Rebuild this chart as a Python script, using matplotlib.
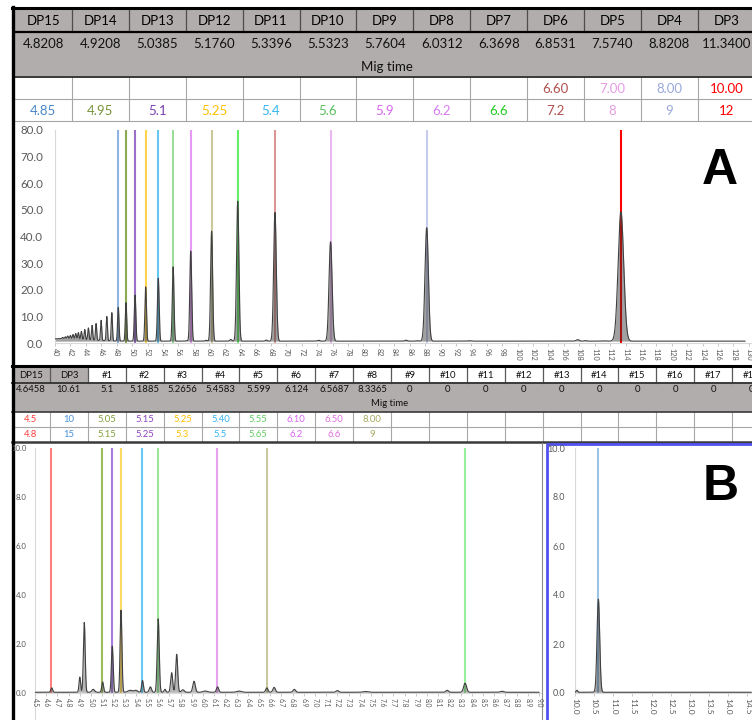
import numpy as np
import matplotlib.pyplot as plt

plt.rcParams['font.family'] = ['Lato', 'DejaVu Sans']

# ---------------- panel A : table ----------------
a_names = ["DP15", "DP14", "DP13", "DP12", "DP11", "DP10", "DP9", "DP8", "DP7",
           "DP6", "DP5", "DP4", "DP3"]
a_mig = [4.8208, 4.9208, 5.0385, 5.1760, 5.3396, 5.5323, 5.7604, 6.0312, 6.3698,
         6.8531, 7.5740, 8.8208, 11.3400]
a_win_start = ["", "", "", "", "", "", "", "", "", "6.60", "7.00", "8.00", "10.00"]
a_win_end = ["4.85", "4.95", "5.1", "5.25", "5.4", "5.6", "5.9", "6.2", "6.6",
             "7.2", "8", "9", "12"]
a_text_colors = ["#4a86c8", "#77933c", "#7b3fb0", "#ffc000", "#33b5f0", "#5cc05c",
                 "#d966f0", "#d97df0", "#22cc22", "#b0504d", "#e39ee3", "#9aa8dc", "#ff0000"]
a_line_colors = ["#8db4e2", "#8baa52", "#9b6fc8", "#ffd24d", "#66c8f0", "#99dd99",
                 "#e699f5", "#c8c89b", "#66ee66", "#d99694", "#e8b8ee", "#c5ccee", "#ff0000"]

# panel A trace : peaks (time, height, width)
a_dp_height = [12.6, 14.4, 17.3, 20.4, 23.6, 27.9, 33.8, 41.3, 52.6, 48.3, 37.3, 42.6, 48.6]
a_dp_width = [0.009, 0.009, 0.010, 0.010, 0.011, 0.011, 0.012, 0.013, 0.015,
              0.017, 0.020, 0.022, 0.036]
a_ladder_time = [4.100, 4.134, 4.165, 4.199, 4.234, 4.269, 4.303, 4.342, 4.386,
                 4.433, 4.481, 4.533, 4.598, 4.672, 4.737]
a_ladder_height = [0.5, 0.75, 1.05, 1.3, 1.7, 2.1, 2.5, 3.0, 3.8, 4.5, 5.5, 6.3, 7.6, 9.1, 10.6]
a_minor_time = [4.10, 5.71, 5.96, 6.28, 6.74, 7.42, 8.55, 8.70, 9.37, 10.78, 10.88, 11.12]
a_minor_height = [0.9, 0.2, 0.3, 0.6, 0.4, 0.3, 0.35, 0.15, 0.15, 0.55, 0.2, 0.1]
a_minor_width = [0.30, 0.010, 0.012, 0.012, 0.012, 0.015, 0.015, 0.015, 0.02, 0.02, 0.015, 0.02]
a_base = 0.7

# ---------------- panel B : table ----------------
b_names = ["DP15", "DP3"] + ["#%d" % i for i in range(1, 19)]
b_mig = [4.6458, 10.61, 5.1, 5.1885, 5.2656, 5.4583, 5.599, 6.124, 6.5687, 8.3365,
         0, 0, 0, 0, 0, 0, 0, 0, 0, 0]
b_win_start = ["4.5", "10", "5.05", "5.15", "5.25", "5.40", "5.55", "6.10", "6.50", "8.00"] + [""] * 10
b_win_end = ["4.8", "15", "5.15", "5.25", "5.3", "5.5", "5.65", "6.2", "6.6", "9"] + [""] * 10
b_text_colors = ["#ff3b3b", "#4a90d9", "#7fa03c", "#8e44c0", "#ffc000", "#33b5f0",
                 "#66cc66", "#d966f0", "#e070e0", "#a8a860"]
b_line_colors = ["#ff7f7f", "#9dc3e6", "#9bbb59", "#a77ddb", "#ffd966", "#66ccf5",
                 "#99e699", "#e8a0f0", "#c8c8a0", "#99ee99"]

b_peak_time = [4.649, 4.90, 4.94, 5.02, 5.104, 5.19, 5.268, 5.35, 5.40, 5.46, 5.53, 5.60,
               5.66, 5.72, 5.765, 5.82, 5.92, 6.02, 6.13, 6.32, 6.57, 6.635, 6.815,
               7.20, 7.45, 8.18, 8.34, 8.67, 10.05, 10.61]
b_peak_height = [0.18, 0.62, 2.85, 0.12, 0.42, 1.88, 3.35, 0.08, 0.08, 0.48, 0.22, 3.0,
                 0.12, 0.8, 1.55, 0.1, 0.45, 0.05, 0.22, 0.05, 0.18, 0.2, 0.12,
                 0.07, 0.03, 0.08, 0.37, 0.04, 0.08, 3.8]
b_peak_width = [0.008, 0.007, 0.008, 0.012, 0.008, 0.008, 0.008, 0.02, 0.015, 0.008, 0.01, 0.009,
                0.008, 0.009, 0.009, 0.012, 0.011, 0.02, 0.01, 0.02, 0.01, 0.011, 0.011,
                0.012, 0.02, 0.012, 0.013, 0.015, 0.02, 0.035]
b_base = 0.03

W, H = 752, 720
GRAY_BG = "#b1adac"
TICK_GREY = "#595959"


def trace(t, base, times, heights, widths):
    y = np.full_like(t, base)
    for c, h, s in zip(times, heights, widths):
        y += h * np.exp(-0.5 * ((t - c) / s) ** 2)
    return y


def px_axes(x0, y0, x1, y1):
    return fig.add_axes([x0 / W, 1 - y1 / H, (x1 - x0) / W, (y1 - y0) / H])


def style_chart(ax, ylabel_pad, yfont, xfont):
    for side in ["top", "right"]:
        ax.spines[side].set_visible(False)
    ax.spines["left"].set_color("#d9d9d9")
    ax.spines["bottom"].set_color("#d9d9d9")
    ax.tick_params(axis="y", length=0, pad=ylabel_pad, labelsize=yfont, labelcolor=TICK_GREY)
    ax.tick_params(axis="x", length=2, width=0.6, color="#bfbfbf", pad=1.5,
                   labelsize=xfont, labelcolor=TICK_GREY, labelrotation=-90)
    ax.set_facecolor("none")


fig = plt.figure(figsize=(W / 100, H / 100), dpi=100)
fig.set_facecolor("white")
canvas = fig.add_axes([0, 0, 1, 1])
canvas.set_xlim(0, W)
canvas.set_ylim(H, 0)
canvas.axis("off")

# ---------- table A ----------
a_left = [15 + 56.9 * i for i in range(len(a_names) + 1)]
canvas.fill_between([15, W], 10, 77, color=GRAY_BG, lw=0)
for x in a_left[1:]:
    canvas.plot([x, x], [9, 32], color="#4d4d4d", lw=0.9)
    canvas.plot([x, x], [77, 121], color="#a6a6a6", lw=0.8)
canvas.plot([15, W], [32, 32], color="black", lw=1.6)
canvas.plot([15, W], [77, 77], color="#3a3a3a", lw=1.4)
canvas.plot([15, W], [99, 99], color="#a6a6a6", lw=0.8)
canvas.plot([15, W], [121, 121], color="#a6a6a6", lw=0.8)
for i, name in enumerate(a_names):
    cx = (a_left[i] + a_left[i + 1]) / 2
    canvas.text(cx, 21, name, ha="center", va="center", fontsize=9.5, color="black")
    canvas.text(cx, 44, "%.4f" % a_mig[i], ha="center", va="center", fontsize=9.5, color="#111111")
    canvas.text(cx, 89, a_win_start[i], ha="center", va="center", fontsize=9.5, color=a_text_colors[i])
    canvas.text(cx, 111, a_win_end[i], ha="center", va="center", fontsize=9.5, color=a_text_colors[i])
canvas.text(387, 67, "Mig time", ha="center", va="center", fontsize=9.5, color="#111111")

# ---------- table B ----------
b_left = [12 + 37.9 * i for i in range(len(b_names) + 1)]
canvas.fill_between([12, b_left[2]], 367, 383, color=GRAY_BG, lw=0)
canvas.fill_between([12, W], 383, 412, color=GRAY_BG, lw=0)
for x in b_left[1:]:
    canvas.plot([x, x], [366, 383], color="#595959", lw=0.9)
    canvas.plot([x, x], [412, 441], color="#a6a6a6", lw=0.8)
canvas.plot([12, W], [383, 383], color="#3a3a3a", lw=1.4)
canvas.plot([12, W], [412, 412], color="#3a3a3a", lw=1.2)
canvas.plot([12, W], [427, 427], color="#a6a6a6", lw=0.8)
canvas.plot([12, W], [442, 442], color="#3a3a3a", lw=1.8)
for i, name in enumerate(b_names):
    cx = (b_left[i] + b_left[i + 1]) / 2
    canvas.text(cx, 375, name, ha="center", va="center", fontsize=6.8, color="#111111")
    canvas.text(cx, 390, "%g" % b_mig[i], ha="center", va="center", fontsize=6.8, color="#111111")
    if b_win_start[i]:
        canvas.text(cx, 419.5, b_win_start[i], ha="center", va="center", fontsize=6.8, color=b_text_colors[i])
        canvas.text(cx, 434.5, b_win_end[i], ha="center", va="center", fontsize=6.8, color=b_text_colors[i])
canvas.text(390, 404, "Mig time", ha="center", va="center", fontsize=6.8, color="#111111")

# outer borders
canvas.plot([12, W], [8, 8], color="black", lw=2.2)
canvas.plot([13, 13], [7, H], color="black", lw=2.4)
canvas.plot([12, W], [365.5, 365.5], color="black", lw=2.2)

# ---------- chart A ----------
axA = px_axes(55, 130, W, 343)
tA = np.linspace(4.0, 12.95, 9000)
yA = trace(tA, a_base,
           a_mig + a_ladder_time + a_minor_time,
           a_dp_height + a_ladder_height + a_minor_height,
           a_dp_width + [0.008] * len(a_ladder_time) + a_minor_width)
axA.vlines(a_mig, 0, 80, colors=a_line_colors, lw=1.5, zorder=1)
axA.fill_between(tA, a_base, yA, color="#303030", alpha=0.45, lw=0, zorder=2)
axA.plot(tA, yA, color="#404040", lw=0.8, zorder=3)
axA.set_xlim(4.0, 4.0 + 697 / 77.1)
axA.set_ylim(0, 80)
a_ticks = np.arange(40, 131, 2) / 10
axA.set_xticks(a_ticks)
axA.set_xticklabels(["%d" % round(v * 10) for v in a_ticks])
axA.set_yticks(np.arange(0, 81, 10))
axA.set_yticklabels(["%.1f" % v for v in np.arange(0, 81, 10)])
style_chart(axA, 8.5, 8.3, 5.2)
fig.text(720 / W, 1 - 171 / H, "A", ha="center", va="center", fontsize=36,
         fontweight="bold", family="Liberation Sans")

# ---------- chart B (left) ----------
axB = px_axes(35, 448, 541, 693)
tB = np.linspace(4.5, 9.0, 6000)
yB = trace(tB, b_base, b_peak_time, b_peak_height, b_peak_width)
left_idx = [i for i, v in enumerate(b_mig) if 4.5 < v < 9.0]
axB.vlines([b_mig[i] for i in left_idx], 0, 10,
           colors=[b_line_colors[i] for i in left_idx], lw=1.5, zorder=1)
axB.fill_between(tB, b_base, yB, color="#303030", alpha=0.35, lw=0, zorder=2)
axB.plot(tB, yB, color="#404040", lw=0.8, zorder=3)
axB.set_xlim(4.5, 4.5 + 506 / 112)
axB.set_ylim(0, 10)
b_ticks = np.arange(45, 91, 1) / 10
axB.set_xticks(b_ticks)
axB.set_xticklabels(["%.1f" % v for v in b_ticks])
axB.set_yticks(np.arange(0, 11, 2))
axB.set_yticklabels(["%.1f" % v for v in np.arange(0, 11, 2)])
style_chart(axB, 5.8, 5.6, 4.8)
canvas.plot([35, 35], [693, H], color="#d9d9d9", lw=0.8)

# ---------- chart B (right) ----------
axC = px_axes(575, 448, W, 693)
tC = np.linspace(10.0, 14.6, 4000)
yC = trace(tC, b_base, b_peak_time, b_peak_height, b_peak_width)
right_idx = [i for i, v in enumerate(b_mig) if v >= 10]
axC.vlines([b_mig[i] for i in right_idx], 0, 10,
           colors=[b_line_colors[i] for i in right_idx], lw=1.5, zorder=1)
axC.fill_between(tC, b_base, yC, color="#303030", alpha=0.45, lw=0, zorder=2)
axC.plot(tC, yC, color="#404040", lw=0.8, zorder=3)
axC.set_xlim(10.0, 10.0 + 177 / 38.3)
axC.set_ylim(0, 10)
c_ticks = np.arange(100, 146, 5) / 10
axC.set_xticks(c_ticks)
axC.set_xticklabels(["%.1f" % v for v in c_ticks])
axC.set_yticks(np.arange(0, 11, 2))
axC.set_yticklabels(["%.1f" % v for v in np.arange(0, 11, 2)])
style_chart(axC, 7.0, 6.5, 6.0)
canvas.plot([542, 542], [443, H], color="#8c8c8c", lw=0.8)
canvas.plot([546.5, 546.5, W + 5], [H + 5, 443.5, 443.5], color="#5050f0", lw=2.0)
fig.text(721 / W, 1 - 487 / H, "B", ha="center", va="center", fontsize=36,
         fontweight="bold", family="Liberation Sans")

fig.savefig("out.png", dpi=100)
